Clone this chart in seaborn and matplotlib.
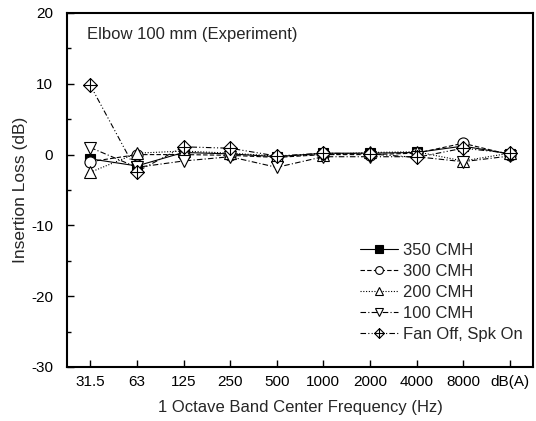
import numpy as np
import pandas as pd
import matplotlib
matplotlib.use("Agg")
import matplotlib.pyplot as plt
from matplotlib.path import Path
from matplotlib.ticker import MultipleLocator
import seaborn as sns

categories = ["31.5", "63", "125", "250", "500", "1000", "2000", "4000", "8000", "dB(A)"]
il_350 = [-0.6, -1.6, 0.3, 0.1, -0.3, 0.2, 0.2, 0.3, 1.2, 0.1]
il_300 = [-1.0, 0.0, 0.0, -0.1, -0.4, 0.0, 0.0, 0.2, 1.6, 0.0]
il_200 = [-2.5, 0.2, 0.5, 0.2, -0.2, 0.0, 0.3, 0.4, -0.9, 0.2]
il_100 = [1.0, -1.8, -0.9, -0.3, -1.8, -0.3, -0.3, -0.3, -1.0, -0.2]
il_fan = [9.8, -2.4, 1.1, 0.9, -0.2, 0.2, 0.1, -0.4, 0.9, 0.2]
series_names = ["350 CMH", "300 CMH", "200 CMH", "100 CMH", "Fan Off, Spk On"]

sns.set_theme(style="ticks")
plt.rcParams["font.family"] = ["Liberation Sans", "DejaVu Sans"]
plt.rcParams["axes.unicode_minus"] = False

fig = plt.figure(figsize=(5.36, 4.21), dpi=100)
ax = fig.add_axes([67/536, 1 - 367/421, (533-67)/536, (367-13)/421])

# diamond with cross marker
verts = [(0, 1), (1, 0), (0, -1), (-1, 0), (0, 1),
         (0, 1), (0, -1), (-1, 0), (1, 0)]
codes = [Path.MOVETO, Path.LINETO, Path.LINETO, Path.LINETO, Path.CLOSEPOLY,
         Path.MOVETO, Path.LINETO, Path.MOVETO, Path.LINETO]
diamond_cross = Path(verts, codes)

styles = [
    dict(marker="s", ls="-", mfc="black", ms=7.5),
    dict(marker="o", ls=(0, (4, 2)), mfc="white", ms=8),
    dict(marker="^", ls=(0, (1, 1.5)), mfc="white", ms=8.5),
    dict(marker="v", ls=(0, (5, 2, 1, 2)), mfc="white", ms=8.5),
    dict(marker=diamond_cross, ls=(0, (5, 2, 1, 2, 1, 2)), mfc="white", ms=10),
]
data = [il_350, il_300, il_200, il_100, il_fan]
x = np.arange(len(categories))
for name, vals, st in zip(series_names, data, styles):
    df = pd.DataFrame({"x": x, "y": vals})
    sns.lineplot(data=df, x="x", y="y", ax=ax, color="black", lw=0.8,
                 linestyle=st["ls"], marker=st["marker"], markersize=st["ms"],
                 markerfacecolor=st["mfc"], markeredgecolor="black",
                 markeredgewidth=0.8, label=name)

ax.set_xlim(-0.5, 9.5)
ax.set_ylim(-30, 20)
ax.set_xticks(x)
ax.set_xticklabels(categories)
ax.yaxis.set_major_locator(MultipleLocator(10))
ax.yaxis.set_minor_locator(MultipleLocator(5))
ax.tick_params(axis="both", which="both", direction="in", labelsize=11, colors="black")
ax.tick_params(which="major", length=5, width=1)
ax.tick_params(which="minor", length=3, width=1)
ax.tick_params(axis="y", which="major", pad=10)
ax.tick_params(axis="x", which="major", pad=6)
for s in ax.spines.values():
    s.set_linewidth(1.5)
    s.set_color("black")
ax.set_xlabel("1 Octave Band Center Frequency (Hz)", fontsize=12, labelpad=8)
ax.set_ylabel("Insertion Loss (dB)", fontsize=12.5, labelpad=2)
ax.text(0.043, 0.94, "Elbow 100 mm (Experiment)", transform=ax.transAxes,
        fontsize=12, va="center", ha="left")
leg = ax.legend(loc="lower right", bbox_to_anchor=(1.010, 0.029), frameon=False,
                fontsize=12, handlelength=2.3, handletextpad=0.3,
                labelspacing=0.36, markerscale=0.7)
fig.savefig("out.png", dpi=100)
